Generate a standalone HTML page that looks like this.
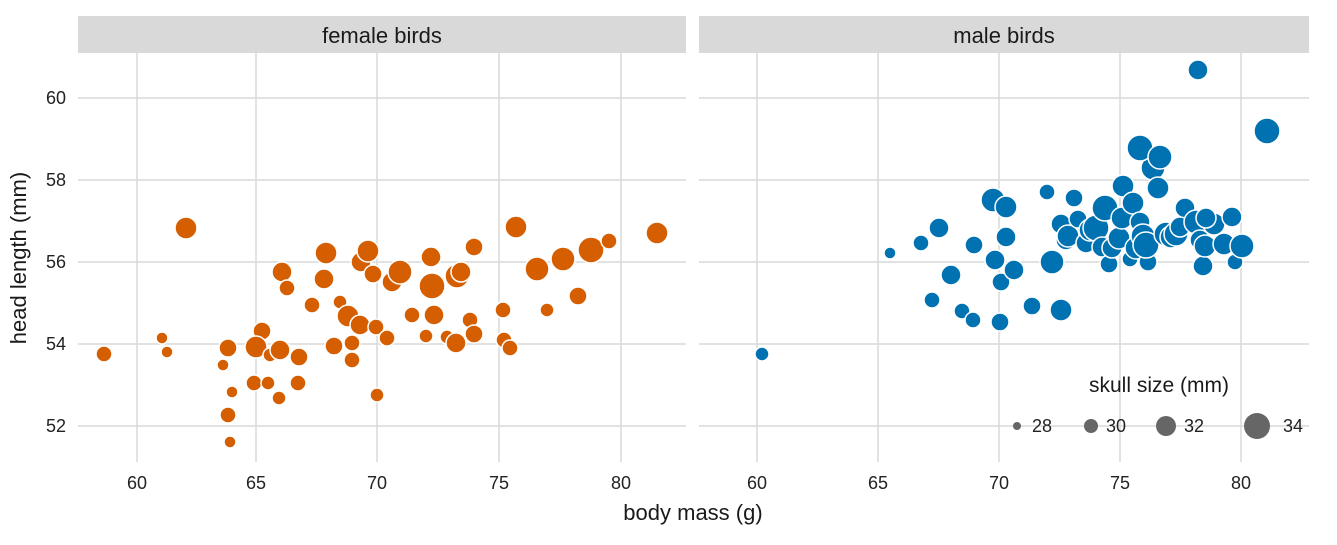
<!DOCTYPE html>
<html><head><meta charset="utf-8"><style>body{margin:0;background:#fff}svg{display:block}text{font-family:"Liberation Sans",sans-serif}</style></head>
<body>
<svg width="1337" height="545" viewBox="0 0 1337 545" xmlns="http://www.w3.org/2000/svg">
<rect x="78" y="16" width="608" height="37" fill="#d9d9d9"/>
<rect x="699" y="16" width="610" height="37" fill="#d9d9d9"/>
<text x="382" y="43" font-size="22" text-anchor="middle" fill="#1a1a1a">female birds</text>
<text x="1004" y="43" font-size="22" text-anchor="middle" fill="#1a1a1a">male birds</text>
<g stroke="#d9d9d9" stroke-width="1.5">
<line x1="78" x2="686" y1="98" y2="98"/><line x1="78" x2="686" y1="180" y2="180"/><line x1="78" x2="686" y1="262" y2="262"/><line x1="78" x2="686" y1="344" y2="344"/><line x1="78" x2="686" y1="426" y2="426"/>
<line x1="699" x2="1309" y1="98" y2="98"/><line x1="699" x2="1309" y1="180" y2="180"/><line x1="699" x2="1309" y1="262" y2="262"/><line x1="699" x2="1309" y1="344" y2="344"/><line x1="699" x2="1309" y1="426" y2="426"/>
<line x1="137" x2="137" y1="53" y2="462"/><line x1="256" x2="256" y1="53" y2="462"/><line x1="377" x2="377" y1="53" y2="462"/><line x1="499" x2="499" y1="53" y2="462"/><line x1="621" x2="621" y1="53" y2="462"/>
<line x1="757" x2="757" y1="53" y2="462"/><line x1="878" x2="878" y1="53" y2="462"/><line x1="999" x2="999" y1="53" y2="462"/><line x1="1120" x2="1120" y1="53" y2="462"/><line x1="1241" x2="1241" y1="53" y2="462"/>
</g>
<g font-size="18" fill="#222" text-anchor="end">
<text x="66" y="104">60</text><text x="66" y="186">58</text><text x="66" y="268">56</text><text x="66" y="350">54</text><text x="66" y="432">52</text>
</g>
<g font-size="18" fill="#222" text-anchor="middle">
<text x="137" y="489">60</text><text x="256" y="489">65</text><text x="377" y="489">70</text><text x="499" y="489">75</text><text x="621" y="489">80</text>
<text x="757" y="489">60</text><text x="878" y="489">65</text><text x="999" y="489">70</text><text x="1120" y="489">75</text><text x="1241" y="489">80</text>
</g>
<text x="693" y="520" font-size="22" text-anchor="middle" fill="#1a1a1a">body mass (g)</text>
<text transform="translate(26,258) rotate(-90)" font-size="22" text-anchor="middle" fill="#1a1a1a">head length (mm)</text>
<g fill="#d55e00" stroke="#fff" stroke-width="1.5">
<circle cx="104" cy="354" r="8"/><circle cx="162" cy="338" r="6"/><circle cx="167" cy="352" r="6"/><circle cx="186" cy="228" r="11"/><circle cx="223" cy="365" r="6"/><circle cx="228" cy="348" r="9"/><circle cx="232" cy="392" r="6"/><circle cx="228" cy="415" r="8"/><circle cx="230" cy="442" r="6"/><circle cx="254" cy="383" r="8"/><circle cx="262" cy="331" r="9"/><circle cx="256" cy="347" r="11"/><circle cx="270" cy="355" r="7"/><circle cx="268" cy="383" r="7"/><circle cx="280" cy="350" r="10"/><circle cx="279" cy="398" r="7"/><circle cx="282" cy="272" r="10"/><circle cx="287" cy="288" r="8"/><circle cx="298" cy="383" r="8"/><circle cx="299" cy="357" r="9"/><circle cx="312" cy="305" r="8"/><circle cx="324" cy="279" r="10"/><circle cx="326" cy="253" r="11"/><circle cx="334" cy="346" r="9"/><circle cx="340" cy="302" r="7"/><circle cx="348" cy="316" r="11"/><circle cx="352" cy="343" r="8"/><circle cx="352" cy="360" r="8"/><circle cx="361" cy="262" r="10"/><circle cx="368" cy="251" r="11"/><circle cx="373" cy="274" r="9"/><circle cx="360" cy="325" r="10"/><circle cx="376" cy="327" r="8"/><circle cx="377" cy="395" r="7"/><circle cx="387" cy="338" r="8"/><circle cx="392" cy="282" r="10"/><circle cx="400" cy="272" r="12"/><circle cx="412" cy="315" r="8"/><circle cx="426" cy="336" r="7"/><circle cx="431" cy="257" r="10"/><circle cx="432" cy="286" r="13"/><circle cx="434" cy="315" r="10"/><circle cx="447" cy="337" r="7"/><circle cx="456" cy="343" r="10"/><circle cx="457" cy="276" r="12"/><circle cx="461" cy="272" r="10"/><circle cx="470" cy="320" r="8"/><circle cx="474" cy="247" r="9"/><circle cx="474" cy="334" r="9"/><circle cx="503" cy="310" r="8"/><circle cx="504" cy="340" r="8"/><circle cx="510" cy="348" r="8"/><circle cx="516" cy="227" r="11"/><circle cx="537" cy="269" r="12"/><circle cx="547" cy="310" r="7"/><circle cx="563" cy="259" r="12"/><circle cx="578" cy="296" r="9"/><circle cx="591" cy="250" r="13"/><circle cx="609" cy="241" r="8"/><circle cx="657" cy="233" r="11"/>
</g>
<g fill="#0072b2" stroke="#fff" stroke-width="1.5">
<circle cx="762" cy="354" r="7"/><circle cx="890" cy="253" r="6"/><circle cx="921" cy="243" r="8"/><circle cx="932" cy="300" r="8"/><circle cx="939" cy="228" r="10"/><circle cx="948" cy="275" r="8"/><circle cx="951" cy="275" r="10"/><circle cx="962" cy="311" r="8"/><circle cx="973" cy="320" r="8"/><circle cx="974" cy="245" r="9"/><circle cx="993" cy="200" r="12"/><circle cx="995" cy="260" r="10"/><circle cx="1000" cy="322" r="9"/><circle cx="1001" cy="282" r="9"/><circle cx="1006" cy="207" r="11"/><circle cx="1006" cy="237" r="10"/><circle cx="1014" cy="270" r="10"/><circle cx="1032" cy="306" r="9"/><circle cx="1047" cy="192" r="8"/><circle cx="1052" cy="262" r="12"/><circle cx="1061" cy="224" r="10"/><circle cx="1061" cy="310" r="11"/><circle cx="1066" cy="240" r="10"/><circle cx="1068" cy="236" r="11"/><circle cx="1074" cy="198" r="9"/><circle cx="1078" cy="219" r="9"/><circle cx="1086" cy="243" r="10"/><circle cx="1090" cy="230" r="11"/><circle cx="1096" cy="228" r="13"/><circle cx="1102" cy="247" r="10"/><circle cx="1105" cy="208" r="13"/><circle cx="1109" cy="264" r="9"/><circle cx="1112" cy="248" r="10"/><circle cx="1119" cy="238" r="11"/><circle cx="1122" cy="218" r="11"/><circle cx="1123" cy="186" r="11"/><circle cx="1130" cy="259" r="8"/><circle cx="1133" cy="203" r="11"/><circle cx="1136" cy="248" r="11"/><circle cx="1140" cy="222" r="10"/><circle cx="1143" cy="236" r="12"/><circle cx="1148" cy="262" r="9"/><circle cx="1153" cy="168" r="12"/><circle cx="1140" cy="148" r="13"/><circle cx="1146" cy="245" r="13"/><circle cx="1158" cy="188" r="11"/><circle cx="1160" cy="157" r="12"/><circle cx="1166" cy="234" r="12"/><circle cx="1171" cy="237" r="11"/><circle cx="1176" cy="234" r="12"/><circle cx="1185" cy="208" r="10"/><circle cx="1180" cy="227" r="10"/><circle cx="1196" cy="222" r="12"/><circle cx="1200" cy="240" r="10"/><circle cx="1203" cy="266" r="10"/><circle cx="1214" cy="224" r="11"/><circle cx="1206" cy="218" r="10"/><circle cx="1205" cy="246" r="11"/><circle cx="1224" cy="244" r="11"/><circle cx="1232" cy="217" r="10"/><circle cx="1235" cy="262" r="8"/><circle cx="1242" cy="246" r="12"/><circle cx="1198" cy="70" r="10"/><circle cx="1267" cy="131" r="13"/>
</g>
<text x="1159" y="392" font-size="21" text-anchor="middle" fill="#1a1a1a">skull size (mm)</text>
<g fill="#666">
<circle cx="1017" cy="426" r="4"/><circle cx="1091" cy="426" r="7"/><circle cx="1166" cy="426" r="10"/><circle cx="1257" cy="426" r="13"/>
</g>
<g font-size="18" fill="#222">
<text x="1032" y="432">28</text><text x="1106" y="432">30</text><text x="1184" y="432">32</text><text x="1283" y="432">34</text>
</g>
</svg>
</body></html>
